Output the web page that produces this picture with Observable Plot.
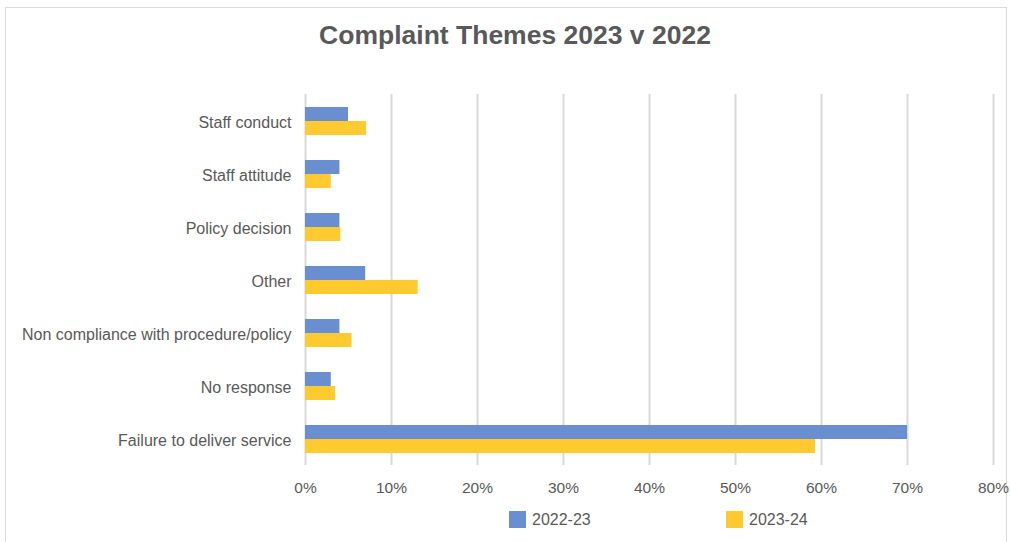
<!DOCTYPE html>
<html>
<head>
<meta charset="utf-8">
<script src="https://cdn.jsdelivr.net/npm/d3@7"></script>
<script src="https://cdn.jsdelivr.net/npm/@observablehq/plot@0.6"></script>
<style>
  html, body { margin: 0; padding: 0; background: #fff; overflow: hidden; }
  #wrap { position: relative; width: 1011px; height: 542px; font-family: "Liberation Sans", Arial, sans-serif; }
  #frame { position: absolute; left: 5px; top: 7px; width: 1002px; height: 560px; border: 1px solid #d9d9d9; box-sizing: border-box; }
  #title { position: absolute; left: 0; width: 1030px; top: 20px; text-align: center; font-size: 26.5px; font-weight: bold; color: #595959; }
  #chart { position: absolute; left: 0; top: 0; }
  .leg { position: absolute; top: 511px; height: 17px; font-size: 16px; color: #595959; display: flex; align-items: center; }
  .sw { width: 17px; height: 17px; margin-right: 6px; display: inline-block; }
</style>
</head>
<body>
<div id="wrap">
  <div id="frame"></div>
  <div id="chart"></div>
  <div id="title">Complaint Themes 2023 v 2022</div>
  <div id="legend"></div>
</div>
<script>
const categories = ["Staff conduct", "Staff attitude", "Policy decision", "Other", "Non compliance with procedure/policy", "No response", "Failure to deliver service"];
const seriesNames = ["2022-23", "2023-24"];
const values2022 = [5.0, 4.0, 4.0, 7.0, 4.0, 3.0, 70.0];
const values2023 = [7.1, 3.0, 4.1, 13.1, 5.4, 3.5, 59.3];
const colors = ["#6a8fd0", "#ffca30"];
const xTicks = [0, 10, 20, 30, 40, 50, 60, 70, 80];

const data = [];
categories.forEach((c, i) => {
  data.push({cat: c, series: seriesNames[0], value: values2022[i]});
  data.push({cat: c, series: seriesNames[1], value: values2023[i]});
});

const chart = Plot.plot({
  width: 1011,
  height: 542,
  marginTop: 93,
  marginBottom: 77,
  marginLeft: 305,
  marginRight: 18,
  style: {fontFamily: "'Liberation Sans', Arial, sans-serif", fontSize: "16px", color: "#595959", background: "transparent"},
  x: {domain: [0, 80], ticks: xTicks, tickFormat: d => d + "%", label: null, tickSize: 0, tickPadding: 17},
  y: {domain: seriesNames, axis: null, paddingInner: 0, paddingOuter: 0.85},
  fy: {domain: categories, axis: null, paddingInner: 0, paddingOuter: 0, label: null},
  color: {domain: seriesNames, range: colors},
  marks: [
    Plot.gridX(xTicks, {stroke: "#d9d9d9", strokeOpacity: 1, strokeWidth: 2}),
    Plot.barX(data, {x: "value", y: "series", fy: "cat", fill: "series"}),
    Plot.axisX({ticks: xTicks, tickFormat: d => d + "%", tickSize: 0, tickPadding: 16, label: null, fontSize: 15.5, fill: "#595959"}),
    Plot.axisFy({anchor: "left", tickSize: 0, tickPadding: 14, dy: 2, label: null, fontSize: 16, fill: "#595959"})
  ]
});
document.getElementById("chart").appendChild(chart);

const legend = document.getElementById("legend");
const legX = [509, 726];
seriesNames.forEach((s, i) => {
  const d = document.createElement("div");
  d.className = "leg";
  d.style.left = legX[i] + "px";
  d.innerHTML = `<span class="sw" style="background:${colors[i]}"></span><span>${s}</span>`;
  legend.appendChild(d);
});
</script>
</body>
</html>
